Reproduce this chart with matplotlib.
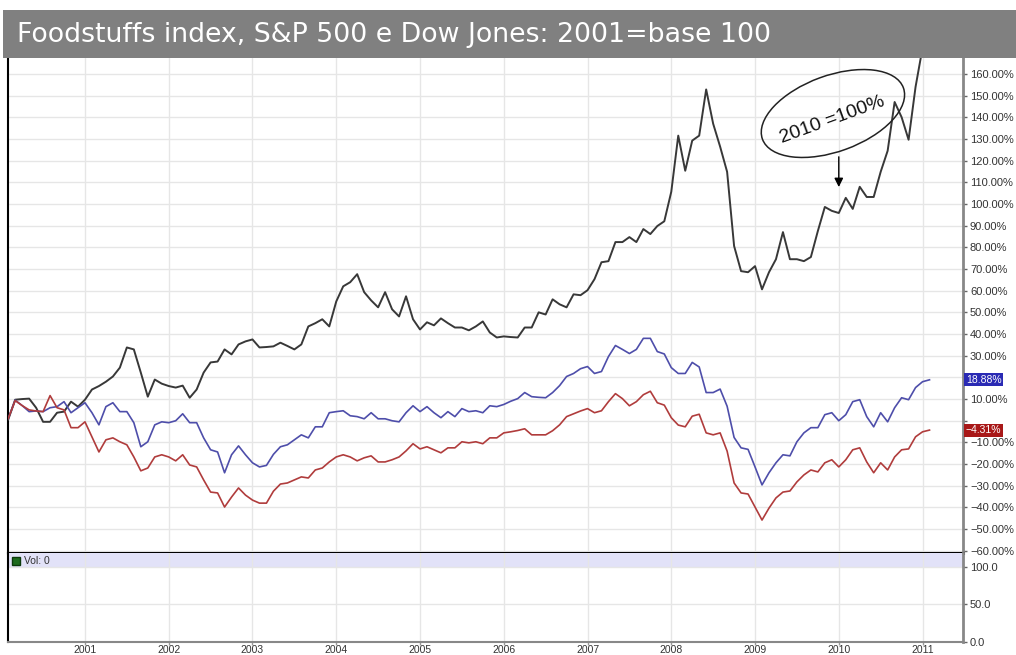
import numpy as np
import matplotlib
matplotlib.use("Agg")
import matplotlib.pyplot as plt
from matplotlib.patches import Ellipse, Rectangle
from matplotlib.transforms import IdentityTransform, blended_transform_factory

# monthly values, Feb 2000 .. Feb 2011, % change vs base
start = 2000 + 1 / 12
years = list(range(2001, 2012))

foodstuffs = [0.5, 9.7, 10, 10.2, 6, -0.5, -0.5, 3.7, 4.2, 8.8,
              6.5, 9.7, 14.4, 16, 18, 20.4, 24.5, 33.8, 32.9, 22.2,
              11.1, 19, 17.1, 16, 15.3, 16.2, 10.6, 14.4, 22.2, 26.9,
              27.3, 32.9, 30.6, 35.2, 36.6, 37.5, 33.8, 34, 34.3, 36,
              34.5, 32.9, 35.2, 43.5, 45, 46.8, 43.5, 55, 62, 63.9,
              67.6, 59.3, 55.5, 52.3, 59.3, 51.4, 48.1, 57.4, 46.8, 42.1,
              45.4, 44, 47.2, 45, 43, 43, 41.7, 43.5, 45.8, 40.7,
              38.4, 38.9, 38.6, 38.4, 43, 43, 50, 49, 56, 53.7,
              52.3, 58.3, 57.9, 60.2, 65.3, 73.1, 73.6, 82.4, 82.4, 84.7,
              82.4, 88.4, 86.1, 89.8, 92, 105.6, 131.5, 115.3, 129.2, 131.5,
              152.8, 137, 126.4, 114.8, 80.6, 69, 68.5, 71.3, 60.6, 68.5,
              74.5, 87, 74.5, 74.5, 73.6, 75.5, 87.5, 98.6, 96.8, 95.8,
              102.8, 97.7, 107.9, 103.2, 103.2, 114.8, 124.5, 147, 140, 129.6,
              154, 172, 190]

dowjones = [1, 9.5, 7, 4.2, 4.5, 4.2, 6, 6.5, 8.8, 3.7,
            6, 8.3, 3.7, -1.9, 6.5, 8.3, 4.2, 4.2, -0.9, -12,
            -9.7, -1.9, -0.5, -0.9, 0, 3.2, -0.9, -0.9, -7.9, -13.4,
            -14.4, -24, -15.7, -11.6, -15.7, -19.4, -21.3, -20.6, -15.5, -12,
            -11.1, -8.8, -6.5, -7.9, -2.8, -2.8, 3.7, 4.2, 4.6, 2.3,
            1.9, 0.9, 3.7, 0.9, 0.9, 0, -0.5, 3.7, 6.9, 4.2,
            6.5, 3.7, 1.4, 4.2, 1.9, 5.6, 4.2, 4.6, 3.7, 6.9,
            6.5, 7.5, 9, 10.2, 13, 11.1, 10.8, 10.6, 13, 16.2,
            20.4, 21.8, 24, 25, 21.8, 22.7, 29.6, 34.7, 32.9, 31,
            32.9, 38, 38, 31.9, 30.8, 24.5, 21.8, 21.8, 26.9, 24.8,
            13, 13, 14.6, 6.7, -7.7, -12.5, -13.2, -21.3, -29.6, -24,
            -19.4, -15.7, -16.2, -9.7, -5.6, -3.2, -3.2, 2.8, 3.7, 0,
            2.8, 8.8, 9.7, 1.9, -2.8, 3.7, -0.5, 6, 10.6, 9.7,
            15.3, 18, 18.88]

sp500 = [1, 9.3, 7, 5, 4.5, 4.2, 11.6, 6, 5, -3.2,
         -3.2, -0.5, -7.4, -14.4, -8.8, -7.9, -9.7, -11.1, -16.7, -23.1,
         -21.8, -16.7, -15.7, -16.7, -18.5, -15.7, -20.4, -21.3, -27.3, -32.9,
         -33.3, -39.8, -35.2, -31, -34.3, -36.6, -38, -38, -32.5, -29.2,
         -28.7, -27.3, -25.9, -26.4, -22.7, -21.8, -19, -16.7, -15.7, -16.7,
         -18.5, -17.1, -16.2, -19, -19, -18, -16.7, -13.9, -10.6, -13,
         -12, -13.4, -14.8, -12.5, -12.5, -9.7, -10.2, -9.7, -10.6, -7.9,
         -7.9, -5.6, -5.1, -4.5, -3.7, -6.5, -6.5, -6.5, -4.6, -1.9,
         1.9, 3.2, 4.5, 5.6, 3.7, 4.6, 8.8, 12.5, 10.2, 6.9,
         8.8, 12, 13.6, 8.3, 7.2, 1.4, -2, -2.8, 2.1, 3,
         -5.6, -6.5, -5.6, -14, -28.7, -33.3, -33.8, -39.8, -45.8, -40.3,
         -35.6, -32.9, -32.4, -28.2, -25, -22.7, -23.6, -19.4, -18, -21.3,
         -18, -13.4, -12.5, -19, -24, -19.4, -22.7, -16.7, -13.4, -13,
         -7.4, -5.1, -4.31]

x = start + np.arange(len(foodstuffs)) / 12

W, H = 1016, 655
def fx(px):
    return px / W
def fy(py):
    return 1 - py / H

fig = plt.figure(figsize=(W / 100, H / 100), dpi=100)
plt.rcParams['font.family'] = ['Liberation Sans', 'DejaVu Sans']

# title bar
fig.add_artist(Rectangle((fx(3), fy(58)), 1 - fx(3), fy(10) - fy(58),
                         transform=fig.transFigure, color='#808080', lw=0))
fig.text(fx(17), fy(35), 'Foodstuffs index, S&P 500 e Dow Jones: 2001=base 100',
         color='white', fontsize=19.3, va='center', ha='left', family='DejaVu Sans')

xlim = (2000.081, 2011.483)

# main panel
ax = fig.add_axes([fx(8), fy(553), fx(963) - fx(8), fy(58) - fy(553)])
ax.plot(x, foodstuffs, color='#383838', lw=1.4, zorder=3)
ax.plot(x, dowjones, color='#4e4eaa', lw=1.2, zorder=3)
ax.plot(x, sp500, color='#b03c3c', lw=1.2, zorder=3)
ax.set_xlim(xlim)
ax.set_ylim(-61, 167.3)

yt = np.arange(-60, 161, 10)
ax.set_yticks(yt)
ax.set_yticklabels(['' if v in (0, 20) else f"{v:.2f}%".replace('-', '\u2212') for v in yt])
ax.yaxis.tick_right()
ax.tick_params(axis='y', length=3, width=1, color='#666666', labelsize=8,
               labelcolor='#333333', pad=2)
ax.set_xticks(years)
ax.tick_params(axis='x', length=0, labelbottom=False)
ax.grid(True, color='#e6e6e6', lw=1, zorder=0)
ax.spines['top'].set_visible(False)
ax.spines['left'].set_color('black')
ax.spines['left'].set_linewidth(1.5)
ax.spines['right'].set_color('#888888')
ax.spines['right'].set_linewidth(2)
ax.spines['bottom'].set_color('black')
ax.spines['bottom'].set_linewidth(2.2)

# last value boxes
tr = blended_transform_factory(ax.transAxes, ax.transData)
ax.text(1.003, dowjones[-1], f"{dowjones[-1]:.2f}%", transform=tr, color='white',
        fontsize=7.5, va='center', ha='left',
        bbox=dict(boxstyle='square,pad=0.15', fc='#2a2ab4', ec='none'))
ax.text(1.003, sp500[-1], f"{sp500[-1]:.2f}%".replace('-', '\u2212'), transform=tr,
        color='white', fontsize=7.5, va='center', ha='left',
        bbox=dict(boxstyle='square,pad=0.15', fc='#a81818', ec='none'))

# hand-drawn note
cx, cy = ax.transData.transform((2009.93, 141.7))
ax.add_patch(Ellipse((cx, cy), 150, 76, angle=20, transform=IdentityTransform(),
                     fill=False, ec='#222222', lw=1.1, clip_on=False, zorder=5))
ax.text(2009.92, 138.7, '2010 =100%', rotation=20, ha='center', va='center',
        fontsize=14, color='#111111', rotation_mode='anchor', zorder=6)
ax.annotate('', xy=(2010.0, 106.5), xytext=(2010.0, 123),
            arrowprops=dict(arrowstyle='-|>', color='black', lw=1,
                            mutation_scale=13), zorder=6)

# volume panel
axv = fig.add_axes([fx(8), fy(642), fx(963) - fx(8), fy(553) - fy(642)])
axv.set_xlim(xlim)
axv.set_ylim(0, 118)
axv.axhspan(100, 118, color='#e2e2f8', lw=0, zorder=1)
axv.set_yticks([0, 50, 100])
axv.set_yticklabels(['0.0', '50.0', '100.0'])
axv.yaxis.tick_right()
axv.tick_params(axis='y', length=3, width=1, color='#666666', labelsize=8,
                labelcolor='#333333', pad=2)
axv.set_xticks(years)
axv.set_xticklabels([str(y) for y in years])
axv.tick_params(axis='x', length=2, width=1, color='#999999', labelsize=7.5,
                labelcolor='#333333', pad=0.5)
axv.grid(True, color='#e6e6e6', lw=1, zorder=0)
axv.spines['top'].set_visible(False)
axv.spines['left'].set_color('black')
axv.spines['left'].set_linewidth(1.5)
axv.spines['right'].set_color('#888888')
axv.spines['right'].set_linewidth(2)
axv.spines['bottom'].set_color('#888888')
axv.spines['bottom'].set_linewidth(1.5)
axv.plot([0.0085], [0.915], 's', transform=axv.transAxes, color='#1d6b1d',
         mec='#0b3a0b', ms=6, clip_on=False, zorder=4)
axv.text(0.017, 0.915, 'Vol: 0', transform=axv.transAxes, fontsize=7.5,
         color='#333333', va='center', ha='left', zorder=4)

fig.savefig('out.png', dpi=100)
